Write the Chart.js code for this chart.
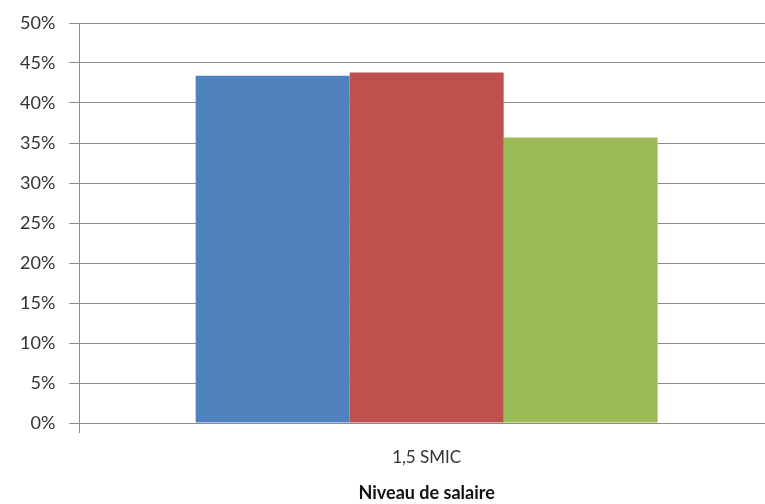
<!DOCTYPE html>
<html lang="fr">
<head>
    <meta charset="UTF-8">
    <title>Niveau de salaire</title>
    <script src="https://cdn.jsdelivr.net/npm/chart.js"></script>
    <style>
        html, body {
            margin: 0;
            padding: 0;
            background: #fff;
            overflow: hidden;
        }

        .wrap {
            width: 774px;
            height: 504px;
        }
    </style>
</head>
<body>
    <div class="wrap">
        <canvas id="chart"></canvas>
    </div>

    <script>
        const categories = ['1,5 SMIC'];
        const seriesNames = ['Série 1', 'Série 2', 'Série 3'];
        const seriesValues = [[43.4], [43.8], [35.7]];
        const seriesColors = ['#4f81bd', '#c0504d', '#9bbb59'];
        const yTicks = [0, 5, 10, 15, 20, 25, 30, 35, 40, 45, 50];

        const gridGray = '#8c8c8c';

        const datasets = seriesValues.map((vals, i) => ({
            label: seriesNames[i],
            data: vals,
            backgroundColor: seriesColors[i],
            borderWidth: 0,
            barPercentage: 1,
            categoryPercentage: 0.665
        }));

        const ctx = document.getElementById('chart').getContext('2d');
        new Chart(ctx, {
            type: 'bar',
            data: {
                labels: categories,
                datasets: datasets
            },
            options: {
                responsive: true,
                maintainAspectRatio: false,
                animation: false,
                layout: {
                    padding: { top: 9, left: 6, right: 0, bottom: 0 }
                },
                plugins: {
                    legend: { display: false },
                    tooltip: { enabled: false }
                },
                scales: {
                    y: {
                        min: yTicks[0],
                        max: yTicks[yTicks.length - 1],
                        afterBuildTicks: (scale) => {
                            scale.ticks = yTicks.map(v => ({ value: v }));
                        },
                        ticks: {
                            color: '#333',
                            font: { family: 'Lato', size: 18, lineHeight: 1 },
                            padding: 14,
                            callback: (v) => v + '%'
                        },
                        grid: {
                            color: gridGray,
                            lineWidth: 1,
                            tickLength: 10
                        },
                        border: { color: gridGray, width: 1 }
                    },
                    x: {
                        ticks: {
                            color: '#333',
                            font: { family: 'Lato', size: 17 },
                            padding: 14
                        },
                        grid: {
                            drawOnChartArea: false,
                            color: gridGray,
                            tickLength: 10
                        },
                        border: { color: gridGray, width: 1 },
                        title: {
                            display: true,
                            text: 'Niveau de salaire',
                            color: '#111',
                            font: { family: 'Lato', size: 18, weight: 'bold' },
                            padding: { top: 1, bottom: 0 }
                        }
                    }
                }
            }
        });
    </script>
</body>
</html>
